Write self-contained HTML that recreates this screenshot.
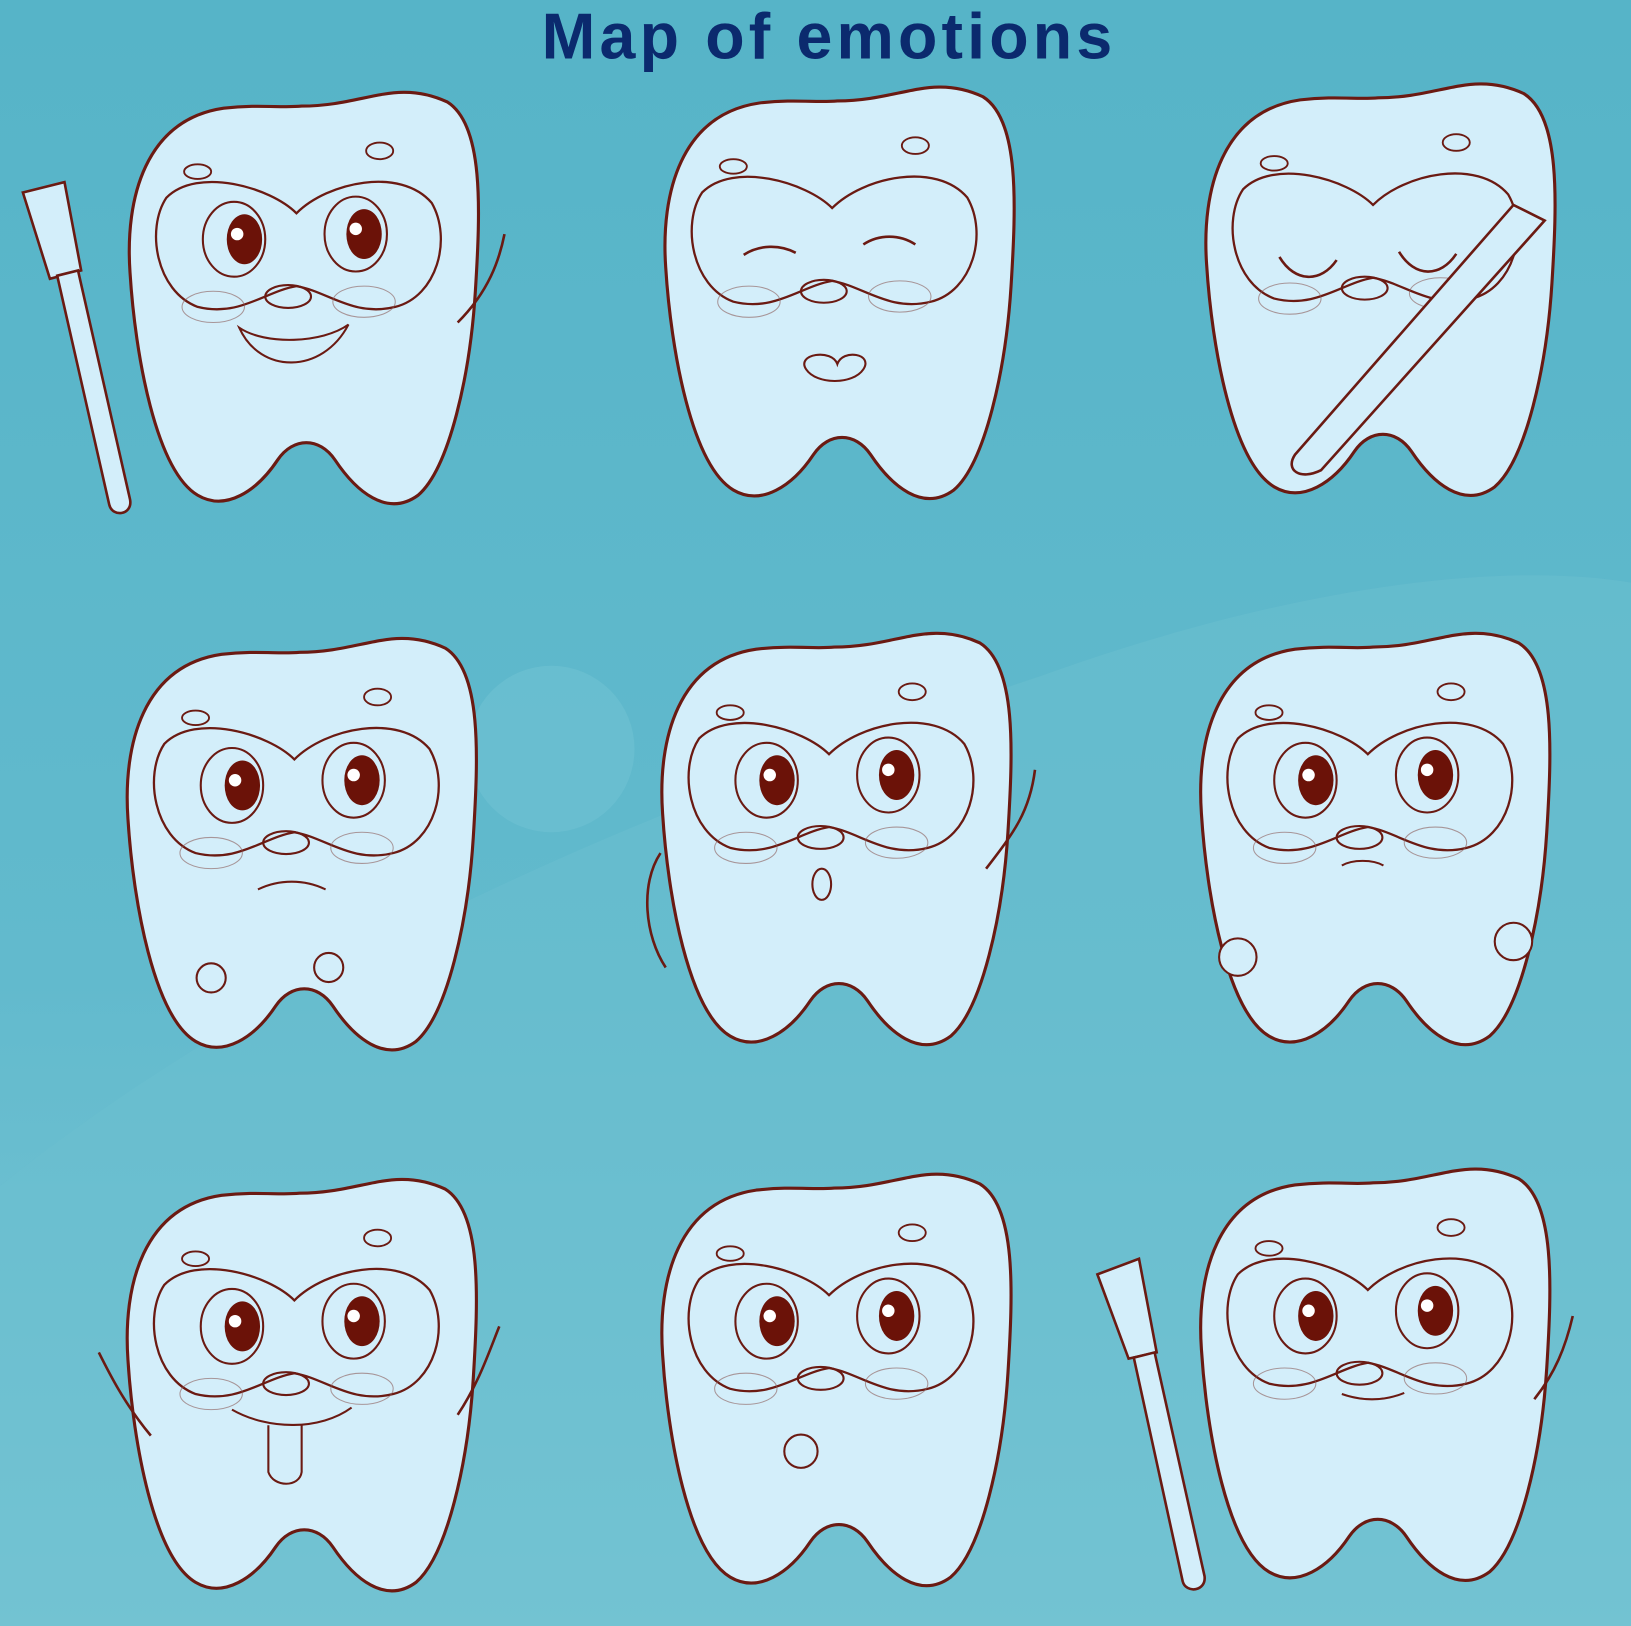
<!DOCTYPE html>
<html><head><meta charset="utf-8"><style>
html,body{margin:0;padding:0;width:1631px;height:1626px;overflow:hidden}
svg{display:block}
</style></head><body>
<svg width="1631" height="1626" viewBox="0 0 1568 1563" preserveAspectRatio="none" xmlns="http://www.w3.org/2000/svg">
<defs>
<linearGradient id="bg" x1="0" y1="0" x2="0" y2="1">
<stop offset="0" stop-color="#56b4c8"/><stop offset="0.6" stop-color="#62bacd"/><stop offset="1" stop-color="#7ac6d5"/>
</linearGradient>
<g id="tooth">
<path d="M5 182 C0 110 20 35 95 24 C130 20 150 24 170 22 C230 22 260 -5 310 18 C345 40 342 120 337 200 C332 280 312 370 282 396 C252 418 222 392 202 362 C187 340 162 340 147 362 C127 392 97 412 70 396 C30 372 10 262 5 182 Z" fill="#d3eefa" stroke="#6b1a12" stroke-width="3"/>
<path d="M40 110 C70 80 140 100 165 125 C195 95 265 80 295 115 C315 150 300 205 260 215 C220 225 195 200 165 195 C135 200 110 225 70 215 C30 200 20 140 40 110 Z" fill="none" stroke="#6b1a12" stroke-width="2.2"/>
<ellipse cx="70" cy="85" rx="13" ry="7" fill="none" stroke="#6b1a12" stroke-width="1.8"/>
<ellipse cx="245" cy="65" rx="13" ry="8" fill="none" stroke="#6b1a12" stroke-width="1.8"/>
<ellipse cx="157" cy="205" rx="22" ry="11" fill="none" stroke="#6b1a12" stroke-width="2"/>
<ellipse cx="85" cy="215" rx="30" ry="15" fill="none" stroke="#8a5a56" stroke-width="1" opacity="0.6"/>
<ellipse cx="230" cy="210" rx="30" ry="15" fill="none" stroke="#8a5a56" stroke-width="1" opacity="0.6"/>
</g>
<g id="eyes">
<ellipse cx="105" cy="150" rx="30" ry="36" fill="#d3eefa" stroke="#6b1a12" stroke-width="2"/>
<ellipse cx="222" cy="145" rx="30" ry="36" fill="#d3eefa" stroke="#6b1a12" stroke-width="2"/>
<ellipse cx="115" cy="150" rx="17" ry="24" fill="#6b1208"/>
<ellipse cx="230" cy="145" rx="17" ry="24" fill="#6b1208"/>
<circle cx="108" cy="145" r="6" fill="#fff"/><circle cx="222" cy="140" r="6" fill="#fff"/>
</g>
</defs>
<rect width="1568" height="1563" fill="url(#bg)"/>
<path d="M0 1140 C300 900 700 750 1000 650 C1250 560 1450 540 1568 560 L1568 1563 L0 1563 Z" fill="#6cc0d0" opacity="0.5"/>
<circle cx="530" cy="720" r="80" fill="#6fc2d2" opacity="0.6"/>
<text x="797" y="56" text-anchor="middle" font-family="Liberation Sans, sans-serif" font-weight="bold" font-size="62" fill="#0b2a6e" letter-spacing="4">Map of emotions</text>

<!-- row 1 -->
<g transform="translate(120,80)"><use href="#tooth"/><use href="#eyes"/>
<path d="M110 235 C130 280 190 280 215 232 C190 250 135 252 110 235 Z" fill="none" stroke="#6b1a12" stroke-width="2"/></g>
<path d="M22 185 L62 175 L78 260 L48 268 Z" fill="#d3eefa" stroke="#6b1a12" stroke-width="2.5"/>
<path d="M55 265 L75 260 L125 480 C128 495 108 498 105 485 Z" fill="#d3eefa" stroke="#6b1a12" stroke-width="2.5"/>
<path d="M440 310 C470 280 480 250 485 225" fill="none" stroke="#6b1a12" stroke-width="2.5"/>
<g transform="translate(635,75)"><use href="#tooth"/>
<path d="M80 170 C95 160 115 160 130 168 M195 160 C210 150 230 150 245 160" fill="none" stroke="#6b1a12" stroke-width="2.5"/>
<path d="M140 280 C130 265 165 260 170 275 C175 260 205 265 195 280 C185 295 150 295 140 280 Z" fill="none" stroke="#6b1a12" stroke-width="2"/></g>
<g transform="translate(1155,72)"><use href="#tooth"/>
<path d="M75 175 C90 200 115 200 130 178 M190 170 C205 195 230 195 245 172" fill="none" stroke="#6b1a12" stroke-width="2.5"/>
<path d="M90 365 L300 125 L330 140 L115 380 C95 390 80 380 90 365 Z" fill="#d3eefa" stroke="#6b1a12" stroke-width="2.5"/></g>

<!-- row 2 -->
<g transform="translate(118,605)"><use href="#tooth"/><use href="#eyes"/>
<path d="M130 250 C150 240 175 240 195 250" fill="none" stroke="#6b1a12" stroke-width="2"/>
<circle cx="85" cy="335" r="14" fill="#d3eefa" stroke="#6b1a12" stroke-width="2"/><circle cx="198" cy="325" r="14" fill="#d3eefa" stroke="#6b1a12" stroke-width="2"/></g>
<g transform="translate(632,600)"><use href="#tooth"/><use href="#eyes"/>
<ellipse cx="158" cy="250" rx="9" ry="15" fill="none" stroke="#6b1a12" stroke-width="2"/></g>
<path d="M948 835 C975 800 990 780 995 740" fill="none" stroke="#6b1a12" stroke-width="2.5"/>
<path d="M635 820 C615 850 620 900 640 930" fill="none" stroke="#6b1a12" stroke-width="2.5"/>
<g transform="translate(1150,600)"><use href="#tooth"/><use href="#eyes"/>
<path d="M140 232 C150 226 170 226 180 232" fill="none" stroke="#6b1a12" stroke-width="2"/>
<circle cx="40" cy="320" r="18" fill="#d3eefa" stroke="#6b1a12" stroke-width="2"/><circle cx="305" cy="305" r="18" fill="#d3eefa" stroke="#6b1a12" stroke-width="2"/></g>

<!-- row 3 -->
<g transform="translate(118,1125)"><use href="#tooth"/><use href="#eyes"/>
<path d="M105 230 C140 250 190 250 220 228" fill="none" stroke="#6b1a12" stroke-width="2"/>
<path d="M140 245 L140 290 C145 305 170 305 172 290 L172 245" fill="none" stroke="#6b1a12" stroke-width="2"/></g>
<path d="M145 1380 C120 1350 105 1320 95 1300 M440 1360 C460 1330 470 1300 480 1275" fill="none" stroke="#6b1a12" stroke-width="2.5"/>
<g transform="translate(632,1120)"><use href="#tooth"/><use href="#eyes"/>
<circle cx="138" cy="275" r="16" fill="#d3eefa" stroke="#6b1a12" stroke-width="2"/></g>
<g transform="translate(1150,1115)"><use href="#tooth"/><use href="#eyes"/>
<path d="M140 225 C160 232 180 232 200 224" fill="none" stroke="#6b1a12" stroke-width="2"/></g>
<path d="M1055 1225 L1095 1210 L1112 1300 L1085 1306 Z" fill="#d3eefa" stroke="#6b1a12" stroke-width="2.5"/>
<path d="M1090 1305 L1110 1300 L1158 1515 C1160 1530 1140 1532 1137 1520 Z" fill="#d3eefa" stroke="#6b1a12" stroke-width="2.5"/>
<path d="M1475 1345 C1495 1320 1505 1295 1512 1265" fill="none" stroke="#6b1a12" stroke-width="2.5"/>
</svg>
</body></html>
